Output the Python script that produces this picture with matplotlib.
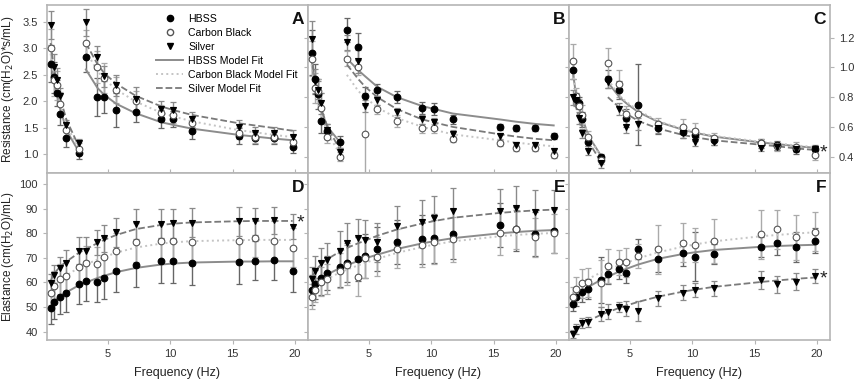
import matplotlib
matplotlib.use('Agg')
import matplotlib.pyplot as plt
from matplotlib.lines import Line2D

plt.rcParams.update({
    'font.family': 'Liberation Sans',
    'font.size': 8,
    'xtick.labelsize': 8,
    'ytick.labelsize': 8,
})

# ------------------------------------------------------------
# Data
# ------------------------------------------------------------
# resistance panels: low-frequency segment (first 6) + high segment
freq_res = [0.39, 0.64, 0.88, 1.17, 1.66, 2.64,
            3.22, 4.15, 4.69, 5.66, 7.23, 9.28, 10.25, 11.72, 15.53, 16.80, 18.36, 19.82]
SPLIT = 6
freq_el = [0.39, 0.64, 1.17, 1.66, 2.64, 3.22, 4.15, 4.69, 5.66, 7.23,
           9.28, 10.25, 11.72, 15.53, 16.80, 18.36, 19.82]

# Panel A
A_hbss = [2.71, 2.45, 2.15, 1.75, 1.30, 1.01, 2.83, 2.08, 2.08, 1.84, 1.80, 1.67, 1.67, 1.44, 1.34, 1.30, 1.30, 1.14]
A_cb = [3.01, 2.40, 2.30, 1.95, 1.45, 1.10, 3.10, 2.65, 2.44, 2.21, 2.00, 1.77, 1.74, 1.58, 1.40, 1.33, 1.33, 1.23]
A_ag = [3.44, 2.65, 2.40, 2.10, 1.55, 1.20, 3.49, 2.83, 2.47, 2.30, 2.04, 1.85, 1.83, 1.66, 1.52, 1.39, 1.40, 1.33]
A_hbss_err = [0.35, 0.30, 0.25, 0.20, 0.17, 0.10, 0.28, 0.36, 0.30, 0.32, 0.20, 0.17, 0.15, 0.15, 0.15, 0.12, 0.12, 0.13]
A_cb_err = [0.35, 0.30, 0.28, 0.22, 0.15, 0.10, 0.25, 0.30, 0.28, 0.25, 0.20, 0.15, 0.15, 0.13, 0.12, 0.12, 0.12, 0.12]
A_ag_err = [0.27, 0.25, 0.22, 0.15, 0.10, 0.08, 0.25, 0.22, 0.20, 0.20, 0.22, 0.16, 0.15, 0.14, 0.13, 0.12, 0.12, 0.12]
A_hbss_fit = [2.75, 2.42, 2.15, 1.85, 1.45, 1.05, 2.60, 2.25, 2.12, 1.95, 1.77, 1.60, 1.55, 1.48, 1.36, 1.33, 1.29, 1.26]
A_cb_fit = [2.90, 2.50, 2.25, 1.95, 1.55, 1.10, 2.95, 2.57, 2.42, 2.22, 1.99, 1.78, 1.71, 1.62, 1.45, 1.41, 1.36, 1.32]
A_ag_fit = [3.10, 2.65, 2.35, 2.05, 1.65, 1.15, 3.10, 2.70, 2.53, 2.33, 2.10, 1.90, 1.83, 1.74, 1.58, 1.54, 1.49, 1.44]

# Panel B
B_hbss = [1.10, 0.92, 0.82, 0.64, 0.57, 0.50, 1.25, 1.14, 0.81, 0.85, 0.80, 0.73, 0.72, 0.65, 0.60, 0.59, 0.59, 0.54]
B_cb = [1.06, 0.86, 0.84, 0.73, 0.53, 0.40, 1.06, 1.00, 0.55, 0.72, 0.64, 0.59, 0.59, 0.52, 0.49, 0.46, 0.46, 0.41]
B_ag = [1.19, 0.91, 0.85, 0.76, 0.58, 0.43, 1.17, 1.04, 0.74, 0.78, 0.70, 0.65, 0.63, 0.55, 0.54, 0.48, 0.48, 0.44]
B_hbss_err = [0.15, 0.10, 0.10, 0.08, 0.05, 0.04, 0.08, 0.09, 0.06, 0.04, 0.04, 0.04, 0.04, 0.03, 0.02, 0.02, 0.02, 0.02]
B_cb_err = [0.12, 0.10, 0.08, 0.10, 0.04, 0.03, 0.05, 0.05, 0.28, 0.03, 0.04, 0.03, 0.03, 0.02, 0.02, 0.02, 0.02, 0.02]
B_ag_err = [0.12, 0.08, 0.06, 0.07, 0.04, 0.03, 0.05, 0.08, 0.04, 0.03, 0.03, 0.03, 0.03, 0.03, 0.02, 0.02, 0.02, 0.02]
B_hbss_fit = [1.05, 0.90, 0.80, 0.71, 0.60, 0.50, 1.06, 0.98, 0.94, 0.87, 0.80, 0.74, 0.72, 0.69, 0.65, 0.635, 0.62, 0.61]
B_cb_fit = [1.02, 0.86, 0.77, 0.68, 0.56, 0.42, 0.95, 0.84, 0.80, 0.73, 0.66, 0.60, 0.58, 0.55, 0.51, 0.495, 0.48, 0.47]
B_ag_fit = [1.08, 0.92, 0.82, 0.72, 0.60, 0.45, 1.02, 0.92, 0.87, 0.80, 0.72, 0.65, 0.63, 0.60, 0.55, 0.535, 0.52, 0.51]

# Panel C
C_hbss = [0.985, 0.79, 0.76, 0.65, 0.50, 0.40, 0.92, 0.85, 0.66, 0.75, 0.595, 0.567, 0.545, 0.51, 0.49, 0.478, 0.45, 0.45]
C_cb = [1.04, 0.81, 0.74, 0.68, 0.53, 0.38, 1.03, 0.89, 0.69, 0.69, 0.62, 0.60, 0.574, 0.527, 0.49, 0.47, 0.467, 0.41]
C_ag = [0.80, 0.78, 0.66, 0.557, 0.44, 0.355, 0.90, 0.72, 0.60, 0.62, 0.59, 0.556, 0.50, 0.50, 0.46, 0.465, 0.45, 0.45]
C_hbss_err = [0.06, 0.04, 0.04, 0.05, 0.03, 0.02, 0.06, 0.06, 0.06, 0.27, 0.04, 0.04, 0.04, 0.03, 0.03, 0.03, 0.03, 0.03]
C_cb_err = [0.12, 0.05, 0.05, 0.07, 0.04, 0.03, 0.10, 0.09, 0.05, 0.05, 0.04, 0.05, 0.05, 0.03, 0.03, 0.03, 0.03, 0.03]
C_ag_err = [0.05, 0.04, 0.04, 0.03, 0.03, 0.03, 0.04, 0.04, 0.04, 0.04, 0.03, 0.03, 0.03, 0.02, 0.02, 0.02, 0.02, 0.02]
C_hbss_fit = [0.98, 0.83, 0.74, 0.66, 0.54, 0.41, 0.90, 0.80, 0.76, 0.70, 0.635, 0.58, 0.56, 0.535, 0.495, 0.485, 0.47, 0.46]
C_cb_fit = [1.00, 0.84, 0.75, 0.66, 0.54, 0.40, 0.92, 0.81, 0.77, 0.71, 0.64, 0.585, 0.565, 0.54, 0.50, 0.49, 0.475, 0.465]
C_ag_fit = [0.82, 0.74, 0.67, 0.60, 0.50, 0.37, 0.80, 0.73, 0.69, 0.64, 0.59, 0.545, 0.53, 0.51, 0.48, 0.47, 0.455, 0.445]

# Panel D
D_hbss = [49.5, 52.2, 54.1, 55.6, 59.2, 60.6, 60.0, 61.9, 64.8, 67.1, 68.9, 68.8, 67.8, 68.2, 68.9, 69.0, 64.7]
D_cb = [55.8, 58.7, 61.3, 62.7, 66.4, 68.0, 67.5, 70.5, 72.8, 76.3, 76.7, 76.9, 76.6, 77.0, 78.2, 77.0, 74.2]
D_ag = [59.9, 63.0, 66.0, 68.0, 72.9, 72.9, 76.3, 77.9, 80.4, 83.7, 83.8, 84.0, 84.3, 84.8, 84.8, 85.3, 82.7]
D_hbss_err = [6.5, 7, 7, 7.5, 8, 8, 8, 8.5, 8.5, 9, 9, 9, 8.7, 8.8, 8, 8, 8.5]
D_cb_err = [5, 6, 6, 6, 7, 7, 7, 7.5, 7.5, 8, 8, 8, 8, 8, 8, 8, 8]
D_ag_err = [3.5, 4, 4.5, 5, 5.5, 5.5, 5, 5.5, 6, 6, 6, 6, 6, 6, 5.5, 5.5, 5]
D_hbss_fit = [50.0, 52.3, 54.5, 56.0, 58.8, 60.0, 61.8, 62.7, 64.2, 65.9, 67.3, 67.7, 68.1, 68.5, 68.5, 68.6, 68.6]
D_cb_fit = [56.0, 58.5, 61.0, 62.8, 66.0, 67.3, 69.3, 70.3, 72.1, 74.2, 75.8, 76.3, 76.8, 77.2, 77.3, 77.3, 77.3]
D_ag_fit = [60.5, 63.5, 66.5, 68.5, 72.0, 73.5, 76.0, 77.3, 79.3, 81.7, 83.4, 83.9, 84.4, 84.9, 85.0, 85.0, 85.0]

# Panel E
E_hbss = [56.9, 59.2, 61.7, 63.9, 66.1, 68.0, 69.4, 70.7, 73.5, 76.3, 77.5, 78.0, 79.7, 83.3, 81.6, 79.8, 80.9]
E_cb = [54.2, 56.9, 60.3, 61.4, 64.8, 67.1, 62.4, 70.0, 70.5, 73.8, 75.2, 76.5, 77.5, 80.0, 81.6, 78.3, 80.0]
E_ag = [61.4, 64.8, 68.0, 69.1, 72.9, 76.2, 77.9, 77.2, 76.3, 83.1, 84.4, 86.3, 89.2, 89.0, 90.4, 88.7, 89.4]
E_hbss_err = [6, 6, 7, 7, 8, 8, 9, 9, 9, 9, 10, 10, 10, 9, 9, 9, 9]
E_cb_err = [5, 5, 6, 6, 7, 8, 8, 8, 8, 8, 9, 9, 9, 9, 8, 8, 8]
E_ag_err = [5, 6, 6, 7, 8, 8, 8, 8, 8, 8, 9, 9, 9, 9, 9, 9, 8]
E_hbss_fit = [56.8, 59.3, 61.8, 63.3, 65.8, 67.0, 68.8, 69.8, 71.3, 73.6, 75.9, 76.8, 78.0, 80.0, 80.5, 81.0, 81.3]
E_cb_fit = [55.3, 57.5, 60.0, 61.5, 64.0, 65.2, 67.0, 68.0, 69.6, 72.0, 74.4, 75.4, 76.7, 78.8, 79.3, 79.8, 80.1]
E_ag_fit = [61.5, 64.5, 67.5, 69.5, 72.5, 74.0, 76.0, 77.0, 79.0, 81.5, 84.0, 85.0, 86.3, 88.3, 88.8, 89.3, 89.6]

# Panel F
F_hbss = [51.2, 53.9, 56.0, 57.3, 61.0, 63.4, 65.3, 63.9, 73.6, 69.4, 71.8, 70.5, 71.5, 74.3, 76.2, 74.5, 77.0]
F_cb = [54.2, 57.2, 59.6, 60.0, 59.6, 66.7, 68.2, 68.2, 70.7, 73.5, 76.2, 75.2, 76.8, 79.5, 81.6, 78.3, 80.6]
F_ag = [39.0, 41.1, 43.4, 44.0, 47.2, 48.1, 50.1, 49.4, 48.4, 53.5, 55.8, 56.9, 57.6, 61.0, 59.3, 60.3, 62.6]
F_hbss_err = [3, 3.5, 4, 4, 9.5, 4, 4, 4, 4, 5, 5, 10, 4, 4, 5, 6, 5]
F_cb_err = [4, 5, 6, 6, 9.5, 7, 5, 6, 5, 10, 8, 7, 9, 10, 8, 9, 8]
F_ag_err = [1.5, 2, 2, 2, 3, 3, 2, 3, 4, 3, 3, 3, 3, 3.5, 3.5, 3.5, 3]
F_hbss_fit = [52.0, 54.0, 56.6, 58.2, 61.0, 62.3, 64.5, 65.5, 67.3, 69.6, 71.6, 72.3, 73.2, 74.5, 74.8, 75.1, 75.3]
F_cb_fit = [55.5, 57.5, 60.0, 61.5, 64.0, 65.2, 67.0, 68.0, 69.8, 72.2, 74.6, 75.5, 76.7, 78.8, 79.3, 79.9, 80.4]
F_ag_fit = [38.8, 40.8, 43.0, 44.4, 46.8, 47.9, 49.7, 50.6, 52.1, 54.2, 56.3, 57.1, 58.2, 60.2, 60.8, 61.5, 62.0]

# ------------------------------------------------------------
# Styles
# ------------------------------------------------------------
HBSS = dict(marker='o', mfc='black', mec='black', ms=4.8, ecolor='#666666',
            fit=dict(ls='-', color='#8c8c8c', lw=1.4))
CB = dict(marker='o', mfc='white', mec='#555555', ms=4.8, ecolor='#aaaaaa',
          fit=dict(ls=':', color='#c4c4c4', lw=1.4))
AG = dict(marker='v', mfc='black', mec='black', ms=4.6, ecolor='#8a8a8a',
          fit=dict(ls='--', color='#7a7a7a', lw=1.3))


def draw_panel(ax, freq, groups, split=None):
    for mean, err, fit, st in groups:
        ax.errorbar(freq, mean, yerr=err, fmt='none', ecolor=st['ecolor'],
                    elinewidth=1.0, capsize=2.5, capthick=0.9, zorder=2)
        if split:
            ax.plot(freq[:split], fit[:split], zorder=3, **st['fit'])
            ax.plot(freq[split:], fit[split:], zorder=3, **st['fit'])
        else:
            ax.plot(freq, fit, zorder=3, **st['fit'])
    for mean, err, fit, st in groups:
        ax.plot(freq, mean, ls='none', marker=st['marker'], mfc=st['mfc'],
                mec=st['mec'], ms=st['ms'], mew=0.8, zorder=4)


W, H = 856, 382
fig = plt.figure(figsize=(W / 100, H / 100), dpi=100)

lefts = [47, 308, 569]
pw = 261
rows = [(5, 173), (173, 340)]

axes = {}
names = [['A', 'B', 'C'], ['D', 'E', 'F']]
for r, (yt, yb) in enumerate(rows):
    for c, lx in enumerate(lefts):
        ax = fig.add_axes([lx / W, 1 - yb / H, pw / W, (yb - yt) / H])
        axes[names[r][c]] = ax

draw_panel(axes['A'], freq_res, [(A_hbss, A_hbss_err, A_hbss_fit, HBSS),
                                 (A_cb, A_cb_err, A_cb_fit, CB),
                                 (A_ag, A_ag_err, A_ag_fit, AG)], SPLIT)
draw_panel(axes['B'], freq_res, [(B_hbss, B_hbss_err, B_hbss_fit, HBSS),
                                 (B_cb, B_cb_err, B_cb_fit, CB),
                                 (B_ag, B_ag_err, B_ag_fit, AG)], SPLIT)
draw_panel(axes['C'], freq_res, [(C_hbss, C_hbss_err, C_hbss_fit, HBSS),
                                 (C_cb, C_cb_err, C_cb_fit, CB),
                                 (C_ag, C_ag_err, C_ag_fit, AG)], SPLIT)
draw_panel(axes['D'], freq_el, [(D_hbss, D_hbss_err, D_hbss_fit, HBSS),
                                (D_cb, D_cb_err, D_cb_fit, CB),
                                (D_ag, D_ag_err, D_ag_fit, AG)])
draw_panel(axes['E'], freq_el, [(E_hbss, E_hbss_err, E_hbss_fit, HBSS),
                                (E_cb, E_cb_err, E_cb_fit, CB),
                                (E_ag, E_ag_err, E_ag_fit, AG)])
draw_panel(axes['F'], freq_el, [(F_hbss, F_hbss_err, F_hbss_fit, HBSS),
                                (F_cb, F_cb_err, F_cb_fit, CB),
                                (F_ag, F_ag_err, F_ag_fit, AG)])

# axes formatting
for key, ax in axes.items():
    ax.set_xlim(0.1, 21.05)
    ax.set_xticks([5, 10, 15, 20])
    for s in ax.spines.values():
        s.set_color('#b5b5b5')
        s.set_linewidth(1.2)
    ax.tick_params(colors='#333333', length=3, width=0.8)
    ax.tick_params(axis='both', color='#b5b5b5')
    ax.text(0.985, 0.96, key, transform=ax.transAxes, ha='right', va='top',
            fontsize=12.5, fontweight='bold', color='#111111')
    if key in 'ABC':
        ax.tick_params(axis='x', labelbottom=False, direction='in')
    else:
        ax.set_xlabel('Frequency (Hz)', fontsize=9, color='#222222', labelpad=6)

axes['A'].set_ylim(0.64, 3.82)
axes['A'].set_yticks([1.0, 1.5, 2.0, 2.5, 3.0, 3.5])
axes['A'].set_yticklabels(['1.0', '1.5', '2.0', '2.5', '3.0', '3.5'])
axes['A'].set_ylabel('Resistance (cm(H$_2$O)*s/mL)', fontsize=8.5, color='#222222')

for k in ['B', 'C']:
    axes[k].set_ylim(0.29, 1.42)
    axes[k].set_yticks([0.4, 0.6, 0.8, 1.0, 1.2])
axes['B'].tick_params(axis='y', labelleft=False)
axes['C'].tick_params(axis='y', left=True, right=True, labelleft=False, labelright=True)
axes['C'].set_yticklabels(['0.4', '0.6', '0.8', '1.0', '1.2'])

for k in ['D', 'E', 'F']:
    axes[k].set_ylim(36.6, 104.5)
    axes[k].set_yticks([40, 50, 60, 70, 80, 90, 100])
axes['D'].set_ylabel('Elastance (cm(H$_2$O)/mL)', fontsize=8.5, color='#222222')
axes['E'].tick_params(axis='y', labelleft=False)
axes['F'].tick_params(axis='y', labelleft=False)

for ax in (axes['A'], axes['D']):
    ax.yaxis.set_label_coords(-0.12, 0.5)

# significance marks
axes['C'].text(20.5, 0.425, '*', fontsize=14, ha='center', va='center', color='#222222')
axes['D'].text(20.45, 84.0, '*', fontsize=14, ha='center', va='center', color='#222222')
axes['F'].text(20.5, 61.3, '*', fontsize=14, ha='center', va='center', color='#222222')

# legend
handles = [
    Line2D([], [], ls='none', marker='o', mfc='black', mec='black', ms=4.5),
    Line2D([], [], ls='none', marker='o', mfc='white', mec='#555555', ms=4.5),
    Line2D([], [], ls='none', marker='v', mfc='black', mec='black', ms=4.5),
    Line2D([], [], **HBSS['fit']),
    Line2D([], [], **CB['fit']),
    Line2D([], [], **AG['fit']),
]
labels = ['HBSS', 'Carbon Black', 'Silver', 'HBSS Model Fit',
          'Carbon Black Model Fit', 'Silver Model Fit']
axes['A'].legend(handles, labels, loc='upper left', bbox_to_anchor=(0.395, 0.985),
                 frameon=False, fontsize=7.6, handlelength=2.5, labelspacing=0.38,
                 handletextpad=0.5, borderaxespad=0.2)

fig.savefig('out.png', dpi=100)
print('Saved out.png')
